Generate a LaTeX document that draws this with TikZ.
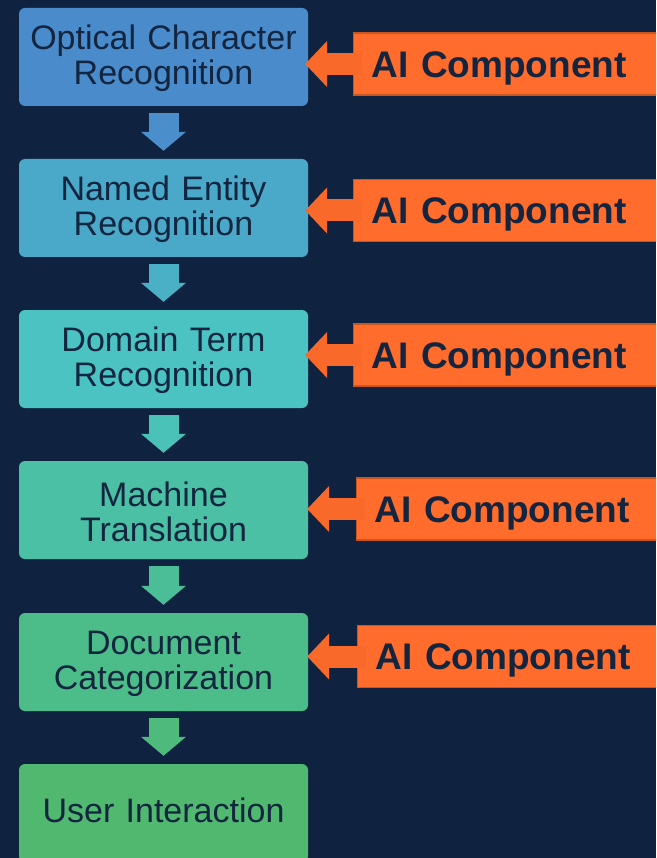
\documentclass[tikz,border=0pt]{standalone}
\usepackage{fontspec}
\setmainfont{Liberation Sans}
\usepackage{xcolor}
\definecolor{NavyBg}{HTML}{0F2340}
\definecolor{InkNavy}{HTML}{13253F}
\definecolor{StageA}{HTML}{4A8BCB}
\definecolor{StageB}{HTML}{4AA8C8}
\definecolor{StageC}{HTML}{4BC3C3}
\definecolor{StageD}{HTML}{4BC0A5}
\definecolor{StageE}{HTML}{4CBD89}
\definecolor{StageF}{HTML}{50B96F}
\definecolor{AiOrange}{HTML}{FF6C2C}
\definecolor{AiEdge}{HTML}{C8561E}
\definecolor{AiTip}{HTML}{F8692A}
\usetikzlibrary{arrows.meta}
\tikzset{
  stage/.style={rounded corners=6pt,minimum width=289pt,minimum height=98pt,
    text width=282pt,align=center,inner sep=0pt,text height=28pt,
    font=\fontsize{34}{35}\selectfont,text=InkNavy},
  down/.style={-{Triangle[length=19pt,width=44pt]},line width=30pt},
  aibox/.style={draw=AiEdge,line width=1.4pt,fill=AiOrange,anchor=west,
    minimum width=330pt,minimum height=62pt,text width=300pt,align=left,
    inner xsep=18pt,text height=26.5pt,text depth=0pt,
    font=\fontsize{37}{40}\selectfont\bfseries,text=InkNavy},
  aiarr/.style={-{Triangle[length=22pt,width=45pt]},line width=22pt,draw=AiTip},
}

\begin{document}
\begin{tikzpicture}[x=1pt,y=-1pt]
\useasboundingbox (0,0) rectangle (656,858);
\fill[NavyBg] (0,0) rectangle (656,858);
\clip (0,0) rectangle (656,858);

% pipeline stages
\node[stage,fill=StageA] (ocr) at (163.5,57) {Optical Character\\Recognition};
\node[stage,fill=StageB] (ner) at (163.5,208) {Named Entity\\Recognition};
\node[stage,fill=StageC] (dtr) at (163.5,359) {Domain Term\\Recognition};
\node[stage,fill=StageD] (mt)  at (163.5,510) {Machine\\Translation};
\node[stage,fill=StageE] (dc)  at (163.5,662) {Document\\Categorization};
\node[stage,fill=StageF,text height=20pt] (ui) at (163.5,813) {User Interaction};

% block arrows between stages
\draw[down,draw=StageA!85!StageB] ([yshift=-7pt]ocr.south) -- ([yshift=8pt]ner.north);
\draw[down,draw=StageB!70!StageC] ([yshift=-7pt]ner.south) -- ([yshift=8pt]dtr.north);
\draw[down,draw=StageC!60!StageD] ([yshift=-7pt]dtr.south) -- ([yshift=8pt]mt.north);
\draw[down,draw=StageD!50!StageE] ([yshift=-7pt]mt.south) -- ([yshift=8pt]dc.north);
\draw[down,draw=StageE!50!StageF] ([yshift=-7pt]dc.south) -- ([yshift=8pt]ui.north);

% AI callouts
\node[aibox] (ai1) at (353,64) {AI Component};
\node[aibox] (ai2) at (353,210.5) {AI Component};
\node[aibox] (ai3) at (353,355) {AI Component};
\node[aibox] (ai4) at (356,509) {AI Component};
\node[aibox] (ai5) at (357,656.5) {AI Component};

\draw[aiarr] ([xshift=9pt]ai1.west) -- ([xshift=-3pt]ai1.west -| ocr.east);
\draw[aiarr] ([xshift=9pt]ai2.west) -- ([xshift=-3pt]ai2.west -| ner.east);
\draw[aiarr] ([xshift=9pt]ai3.west) -- ([xshift=-3pt]ai3.west -| dtr.east);
\draw[aiarr] ([xshift=9pt]ai4.west) -- ([xshift=-1pt]ai4.west -| mt.east);
\draw[aiarr] ([xshift=9pt]ai5.west) -- ([xshift=-1pt]ai5.west -| dc.east);
\end{tikzpicture}
\end{document}
